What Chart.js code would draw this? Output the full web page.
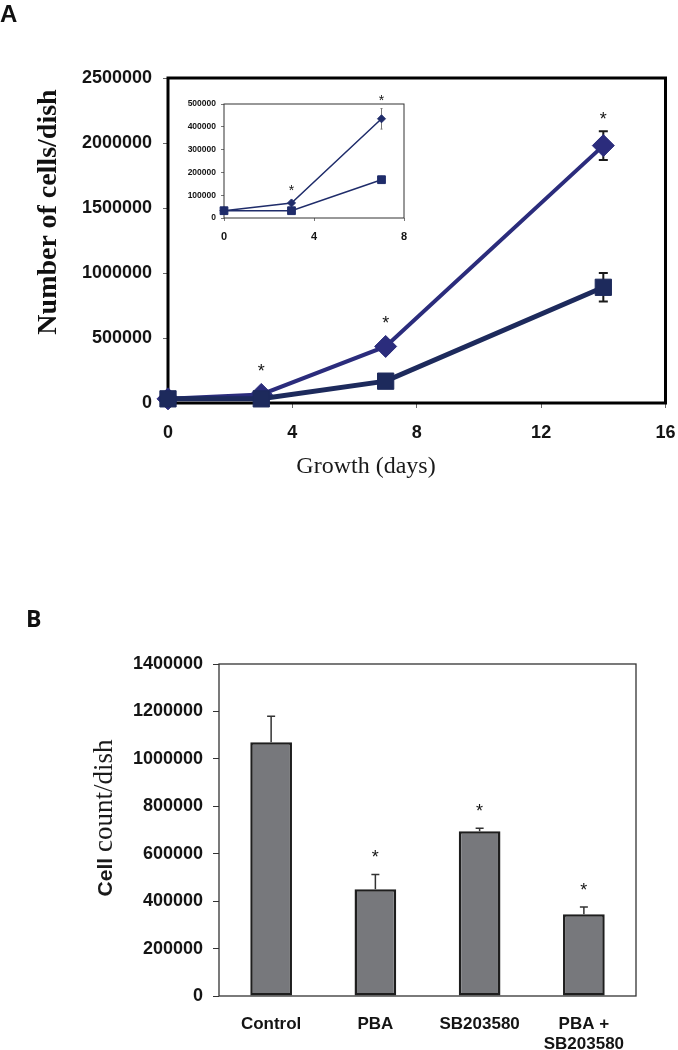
<!DOCTYPE html>
<html>
<head>
<meta charset="utf-8">
<script src="https://cdn.jsdelivr.net/npm/chart.js@4.4.1/dist/chart.umd.min.js"></script>
<style>
html,body{margin:0;padding:0;background:#fff;}
#page{position:relative;width:678px;height:1050px;overflow:hidden;background:#fff;}
canvas{position:absolute;}
#cA{left:0;top:0;}
#cI{left:160px;top:85px;}
#cB{left:0;top:600px;}
#labels{position:absolute;left:0;top:0;pointer-events:none;}
</style>
</head>
<body>
<div id="page">
<canvas id="cA" width="678" height="480"></canvas>
<canvas id="cI" width="260" height="170"></canvas>
<canvas id="cB" width="678" height="450"></canvas>
<svg id="labels" width="678" height="1050" xmlns="http://www.w3.org/2000/svg">
  <text x="0" y="22" font-family="Liberation Sans" font-weight="700" font-size="24" fill="#111">A</text>
  <text x="26" y="627" font-family="Open Sans" font-weight="700" font-size="23" fill="#111">B</text>
  <text transform="translate(56,212) rotate(-90)" text-anchor="middle" font-family="Liberation Serif" font-weight="700" font-size="28" fill="#111">Number of cells/dish</text>
  <text x="366" y="473" text-anchor="middle" font-family="Liberation Serif" font-size="24" fill="#1a1a1a">Growth (days)</text>
  <text transform="translate(112,818) rotate(-90)" text-anchor="middle" fill="#1a1a1a"><tspan font-family="Liberation Sans" font-weight="700" font-size="21">Cell </tspan><tspan font-family="Liberation Serif" font-size="27">count/dish</tspan></text>
</svg>
</div>
<script>
// ---------- Panel A data ----------
const days = [0, 3, 7, 14];
const diamondMeans = [32000, 66000, 435000, 1980000];
const diamondErrors = [6000, 8000, 45000, 110000];
const diamondStars = [false, true, true, true];
const squareMeans = [32000, 32000, 168000, 890000];
const squareErrors = [5000, 6000, 15000, 110000];
const insetMaxDay = 8;
const mainXTicks = [0, 4, 8, 12, 16];
const mainYTicks = [0, 500000, 1000000, 1500000, 2000000, 2500000];
const insetXTicks = [0, 4, 8];
const insetYTicks = [0, 100000, 200000, 300000, 400000, 500000];

// ---------- Panel B data ----------
const groups = ['Control', 'PBA', 'SB203580', ['PBA +', 'SB203580']];
const groupMeans = [1070000, 450000, 695000, 345000];
const groupErrors = [110000, 62000, 12000, 30000];
const groupStars = [false, true, true, true];
const barYTicks = [0, 200000, 400000, 600000, 800000, 1000000, 1200000, 1400000];

const DIAMOND = '#2b2c7c';
const SQUARE = '#1d2a5c';
const INSET = '#1f2c6a';
const TXT = '#141414';

function pts(xs, ys, keep) {
  const out = [];
  xs.forEach((x, i) => { if (!keep || keep(x)) out.push({x: x, y: ys[i]}); });
  return out;
}
function fixedTicks(arr) { return s => { s.ticks = arr.map(v => ({value: v})); }; }
function fitH(h) { return s => { s.height = h; s.paddingLeft = 0; s.paddingRight = 0; }; }
function fitW(w) { return s => { s.width = w; s.paddingTop = 0; s.paddingBottom = 0; }; }

function errorPlugin(id, phase, sets) {
  const p = {id: id};
  p[phase] = function (chart) {
    const ctx = chart.ctx, ys = chart.scales.y;
    sets.forEach(set => {
      const meta = chart.getDatasetMeta(set.ds);
      ctx.save();
      ctx.strokeStyle = set.color;
      ctx.lineWidth = set.width;
      meta.data.forEach((el, i) => {
        const m = set.means[i], e = set.errors[i];
        if (!e) return;
        const x = el.x;
        const yT = ys.getPixelForValue(m + e);
        const yB = set.upOnly ? el.y : ys.getPixelForValue(m - e);
        ctx.beginPath();
        ctx.moveTo(x, yT); ctx.lineTo(x, yB);
        if (set.cap) {
          ctx.moveTo(x - set.cap / 2, yT); ctx.lineTo(x + set.cap / 2, yT);
          if (!set.upOnly) { ctx.moveTo(x - set.cap / 2, yB); ctx.lineTo(x + set.cap / 2, yB); }
        }
        ctx.stroke();
      });
      ctx.restore();
    });
  };
  return p;
}

function starPlugin(id, cfg) {
  return {
    id: id,
    afterDatasetsDraw(chart) {
      const ctx = chart.ctx, ys = chart.scales.y;
      const meta = chart.getDatasetMeta(cfg.ds);
      ctx.save();
      ctx.fillStyle = TXT;
      ctx.font = cfg.size + 'px "Liberation Sans"';
      ctx.textAlign = 'center';
      ctx.textBaseline = 'alphabetic';
      meta.data.forEach((el, i) => {
        if (!cfg.flags[i]) return;
        const top = Math.min(ys.getPixelForValue(cfg.means[i] + cfg.errors[i]), el.y - cfg.clear);
        const cy = top - cfg.gap;
        ctx.fillText('*', el.x, cy + cfg.size * 0.6);
      });
      ctx.restore();
    }
  };
}

function framePlugin(id, phase, width, color) {
  const p = {id: id};
  p[phase] = function (chart) {
    const a = chart.chartArea, ctx = chart.ctx;
    ctx.save();
    ctx.strokeStyle = color;
    ctx.lineWidth = width;
    ctx.strokeRect(a.left, a.top, a.right - a.left, a.bottom - a.top);
    ctx.restore();
  };
  return p;
}

const common = {
  responsive: false, animation: false, events: [],
  plugins: {legend: {display: false}, tooltip: {enabled: false}}
};

// ---------- Panel A main chart ----------
new Chart(document.getElementById('cA'), {
  type: 'line',
  data: {
    datasets: [
      {data: pts(days, squareMeans), borderColor: SQUARE, backgroundColor: SQUARE, borderWidth: 5,
       pointStyle: 'rect', pointRadius: 11.5, pointBorderWidth: 1, pointBorderColor: SQUARE, tension: 0, clip: false},
      {data: pts(days, diamondMeans), borderColor: DIAMOND, backgroundColor: DIAMOND, borderWidth: 4,
       pointStyle: 'rectRot', pointRadius: 11, pointBorderWidth: 1, pointBorderColor: DIAMOND, tension: 0, clip: false}
    ]
  },
  options: Object.assign({}, common, {
    layout: {padding: {top: 78, right: 10, left: 0, bottom: 0}},
    scales: {
      x: {type: 'linear', min: 0, max: 16, afterBuildTicks: fixedTicks(mainXTicks), afterFit: fitH(77),
          grid: {display: true, drawOnChartArea: false, drawTicks: true, tickLength: 5, color: '#666', lineWidth: 1},
          border: {display: false},
          ticks: {color: TXT, padding: 14, maxRotation: 0, autoSkip: false, font: {family: 'Liberation Sans', weight: 'bold', size: 18}, callback: v => String(v)}},
      y: {type: 'linear', min: 0, max: 2500000, afterBuildTicks: fixedTicks(mainYTicks), afterFit: fitW(168),
          grid: {display: true, drawOnChartArea: false, drawTicks: true, tickLength: 5, color: '#666', lineWidth: 1},
          border: {display: false},
          ticks: {color: TXT, padding: 11, autoSkip: false, font: {family: 'Liberation Sans', weight: 'bold', size: 18}, callback: v => String(v)}}
    }
  }),
  plugins: [
    framePlugin('frameA', 'beforeDatasetsDraw', 3, '#000'),
    errorPlugin('errA', 'beforeDatasetsDraw', [
      {ds: 0, means: squareMeans, errors: squareErrors, color: '#1a1a1a', width: 2, cap: 9},
      {ds: 1, means: diamondMeans, errors: diamondErrors, color: '#1a1a1a', width: 2, cap: 9}
    ]),
    starPlugin('starA', {ds: 1, flags: diamondStars, means: diamondMeans, errors: diamondErrors, clear: 11, gap: 17, size: 18})
  ]
});

// ---------- Panel A inset ----------
const n = days.filter(d => d <= insetMaxDay).length;
new Chart(document.getElementById('cI'), {
  type: 'line',
  data: {
    datasets: [
      {data: pts(days, squareMeans, d => d <= insetMaxDay), borderColor: INSET, backgroundColor: INSET, borderWidth: 1.5,
       pointStyle: 'rect', pointRadius: 5.5, pointBorderWidth: 1, tension: 0, clip: false},
      {data: pts(days, diamondMeans, d => d <= insetMaxDay), borderColor: INSET, backgroundColor: INSET, borderWidth: 1.5,
       pointStyle: 'rectRot', pointRadius: 4, pointBorderWidth: 1, tension: 0, clip: false}
    ]
  },
  options: Object.assign({}, common, {
    layout: {padding: {top: 19, right: 16, left: 0, bottom: 0}},
    scales: {
      x: {type: 'linear', min: 0, max: 8, afterBuildTicks: fixedTicks(insetXTicks), afterFit: fitH(37),
          grid: {display: true, drawOnChartArea: false, drawTicks: true, tickLength: 3, color: '#777', lineWidth: 1},
          border: {display: false},
          ticks: {color: TXT, padding: 9, maxRotation: 0, autoSkip: false, font: {family: 'Liberation Sans', weight: 'bold', size: 11}, callback: v => String(v)}},
      y: {type: 'linear', min: 0, max: 500000, afterBuildTicks: fixedTicks(insetYTicks), afterFit: fitW(64),
          grid: {display: true, drawOnChartArea: false, drawTicks: true, tickLength: 3, color: '#777', lineWidth: 1},
          border: {display: false},
          ticks: {color: TXT, padding: 5, autoSkip: false, font: {family: 'Liberation Sans', weight: 'bold', size: 8.5}, callback: v => String(v)}}
    }
  }),
  plugins: [
    framePlugin('frameI', 'beforeDatasetsDraw', 1, '#333'),
    errorPlugin('errI', 'beforeDatasetsDraw', [
      {ds: 0, means: squareMeans.slice(0, n), errors: squareErrors.slice(0, n), color: '#777', width: 1, cap: 2},
      {ds: 1, means: diamondMeans.slice(0, n), errors: diamondErrors.slice(0, n), color: '#777', width: 1, cap: 2}
    ]),
    starPlugin('starI', {ds: 1, flags: diamondStars.slice(0, n), means: diamondMeans.slice(0, n), errors: diamondErrors.slice(0, n), clear: 4, gap: 12, size: 14})
  ]
});

// ---------- Panel B ----------
new Chart(document.getElementById('cB'), {
  type: 'bar',
  data: {
    labels: groups,
    datasets: [{data: groupMeans, backgroundColor: '#77787c', borderColor: '#1e1e1e', borderWidth: 2.5,
                borderSkipped: false, barPercentage: 0.4, categoryPercentage: 1.0}]
  },
  options: Object.assign({}, common, {
    layout: {padding: {top: 64, right: 42, left: 0, bottom: 0}},
    scales: {
      x: {afterFit: fitH(54),
          grid: {display: false}, border: {display: false},
          ticks: {color: TXT, padding: 10, maxRotation: 0, autoSkip: false, font: {family: 'Liberation Sans', weight: 'bold', size: 17}}},
      y: {type: 'linear', min: 0, max: 1400000, afterBuildTicks: fixedTicks(barYTicks), afterFit: fitW(219),
          grid: {display: true, drawOnChartArea: false, drawTicks: true, tickLength: 6, color: '#333', lineWidth: 1},
          border: {display: false},
          ticks: {color: TXT, padding: 10, autoSkip: false, font: {family: 'Liberation Sans', weight: 'bold', size: 18}, callback: v => String(v)}}
    }
  }),
  plugins: [
    framePlugin('frameB', 'beforeDatasetsDraw', 1.3, '#333'),
    errorPlugin('errB', 'afterDatasetsDraw', [
      {ds: 0, means: groupMeans, errors: groupErrors, color: '#333', width: 1.5, cap: 8, upOnly: true}
    ]),
    starPlugin('starB', {ds: 0, flags: groupStars, means: groupMeans, errors: groupErrors, clear: 0, gap: 22, size: 18})
  ]
});
</script>
</body>
</html>
